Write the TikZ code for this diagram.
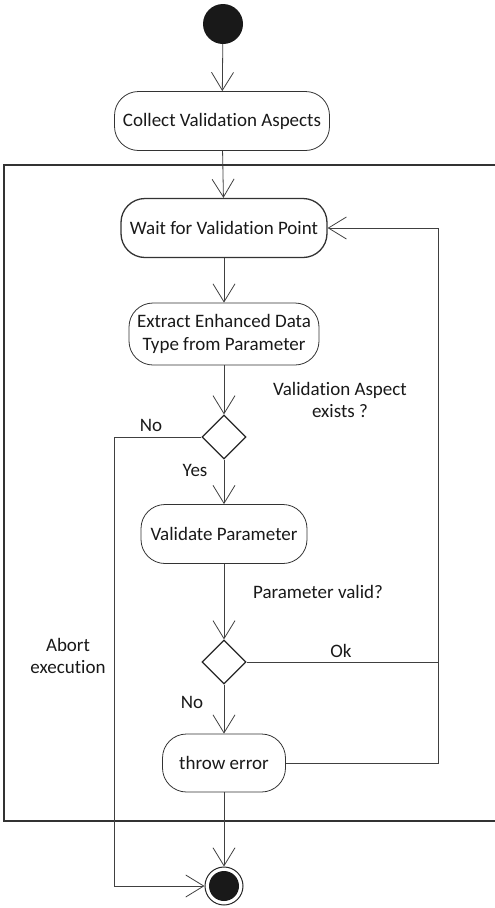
\documentclass[tikz,border=0pt]{standalone}
\usepackage{fontspec}
\setmainfont{Carlito}[Ligatures=CommonOff]
\usetikzlibrary{arrows.meta,shapes.geometric}
\begin{document}
\begin{tikzpicture}[x=1pt,y=-1pt,
  every node/.style={font=\fontsize{19}{22.5}\selectfont, text=black!90},
  act/.style={draw=black!80, line width=0.8pt, rounded corners=24pt, inner sep=0pt, align=center},
  dec/.style={draw=black!85, line width=1.2pt, diamond, minimum width=44pt, minimum height=44pt, inner sep=0pt},
  flow/.style={draw=black!75, line width=0.8pt, -{Straight Barb[length=18pt,width=22pt,line width=0.8pt]}},
  plain/.style={draw=black!75, line width=0.8pt},
  lbl/.style={inner sep=0pt, align=center}]
\useasboundingbox (0,0) rectangle (495,908);
% outer frame
\draw[line width=1.6pt, draw=black!80] (4,165) rectangle (496,821);
% start
\node[circle, fill=black!90, minimum size=40pt, inner sep=0pt] (start) at (223,24) {};
\node[act, minimum width=215pt, minimum height=59pt] (collect) at (222,121) {Collect Validation Aspects};
\node[act, line width=1.3pt, minimum width=206pt, minimum height=59pt] (wait) at (224,228) {Wait for Validation Point};
\node[act, minimum width=190pt, minimum height=62pt] (extract) at (224,334) {Extract Enhanced Data\\Type from Parameter};
\node[dec] (d1) at (224,437) {};
\node[act, minimum width=166pt, minimum height=59pt] (validate) at (224,534) {Validate Parameter};
\node[dec] (d2) at (224,662) {};
\node[act, minimum width=123pt, minimum height=58pt] (throw) at (224,763) {throw error};
\node[circle, draw=black!85, line width=1pt, minimum size=38pt, inner sep=0pt] (final) at (224,886) {};
\node[circle, fill=black!90, minimum size=30pt, inner sep=0pt] at (final.center) {};
% coordinates
\coordinate (rtop) at (438,228);
\coordinate (rmid) at (438,662);
\coordinate (rbot) at (438,763);
\coordinate (ltop) at (114,437);
\coordinate (lbot) at (114,886);
% connectors
\draw[flow] (start) -- (collect);
\draw[flow] (collect) -- (wait);
\draw[flow] (wait) -- (extract);
\draw[flow] (extract) -- (d1.north);
\draw[flow] (d1.south) -- (validate);
\draw[flow] (validate) -- (d2.north);
\draw[flow] (d2.south) -- (throw);
\draw[flow] (throw) -- (final);
\draw[flow] (d2.east) -- (rmid) -- (rtop) -- (wait.east);
\draw[plain] (throw.east) -- (rbot) -- (rmid);
\draw[flow] (d1.west) -- (ltop) -- (lbot) -- (final.west);
% labels
\node[lbl] (l1) at (340,400) {Validation Aspect\\exists ?};
\node[lbl] (l2) at (151,425) {No};
\node[lbl] (l3) at (195,470) {Yes};
\node[lbl] (l4) at (318,592) {Parameter valid?};
\node[lbl] (l5) at (341,651) {Ok};
\node[lbl] (l6) at (192,702) {No};
\node[lbl] (l7) at (68,656) {Abort\\execution};
\end{tikzpicture}
\end{document}
